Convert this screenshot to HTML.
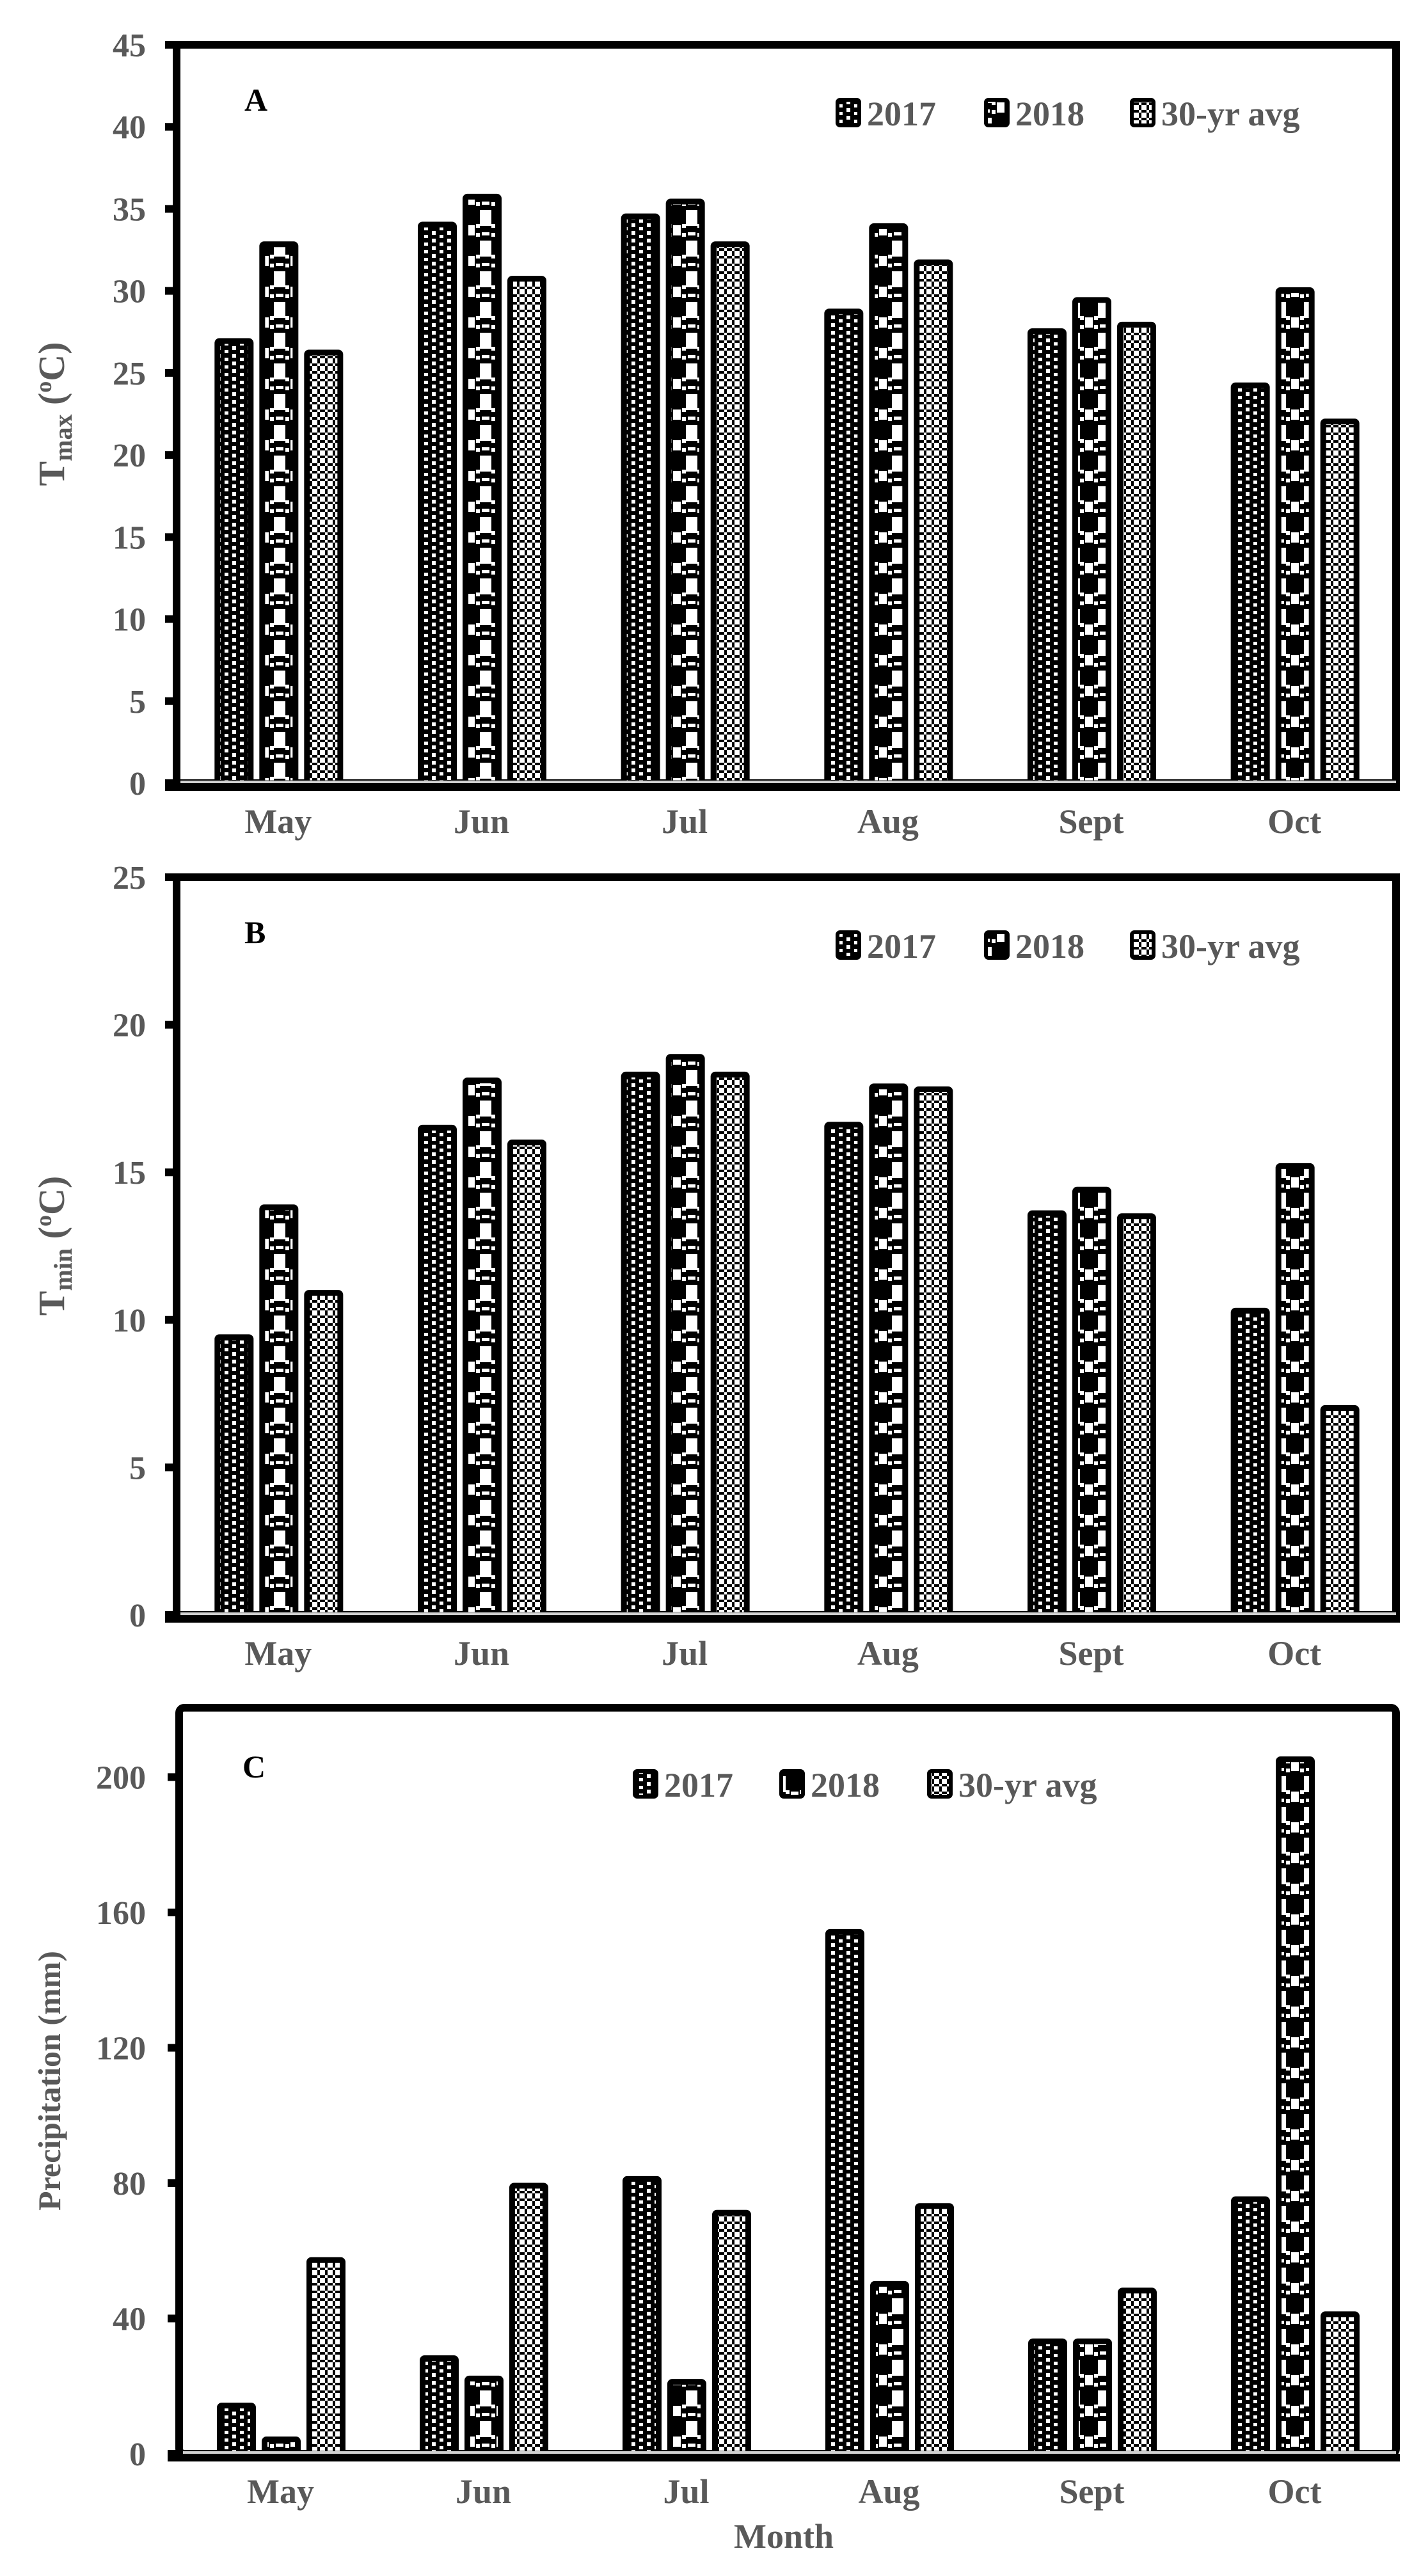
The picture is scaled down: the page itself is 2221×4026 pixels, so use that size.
<!DOCTYPE html>
<html><head><meta charset="utf-8"><style>
html,body{margin:0;padding:0;background:#fff;}
svg{display:block;}
</style></head><body>
<svg id="fig" xmlns="http://www.w3.org/2000/svg" width="2221" height="4026" viewBox="0 0 2221 4026">
<defs>
<pattern id="p2017" width="24" height="12" patternUnits="userSpaceOnUse">
<rect width="24" height="12" fill="#000"/>
<rect x="3" y="1" width="6" height="6" fill="#fff"/>
<rect x="15" y="7" width="6" height="6" fill="#fff"/>
</pattern>
<pattern id="p2018" width="46" height="48" patternUnits="userSpaceOnUse">
<rect width="46" height="48" fill="#000"/>
<rect x="14" y="0" width="18" height="17" fill="#fff"/>
<rect x="0" y="16" width="6" height="16" fill="#fff"/>
<rect x="40" y="16" width="6" height="16" fill="#fff"/>
<rect x="8" y="14" width="6" height="6" fill="#fff"/>
<rect x="32" y="14" width="6" height="6" fill="#fff"/>
<rect x="8" y="28" width="6" height="6" fill="#fff"/>
<rect x="32" y="28" width="6" height="6" fill="#fff"/>
<rect x="17" y="27" width="12" height="5" fill="#fff"/>
<rect x="14" y="40" width="18" height="8" fill="#fff"/>
</pattern>
<pattern id="pavg" width="12" height="12" patternUnits="userSpaceOnUse">
<rect width="12" height="12" fill="#fff"/>
<rect x="4" y="0" width="4" height="4" fill="#000"/>
<rect x="0" y="4" width="4" height="4" fill="#000"/>
<rect x="8" y="4" width="4" height="4" fill="#000"/>
<rect x="4" y="8" width="4" height="4" fill="#000"/>
</pattern>
</defs>
</svg>
<script>
// ---- data ----
const months = ["May","Jun","Jul","Aug","Sept","Oct"];
const seriesNames = ["2017","2018","30-yr avg"];
const tmax2017 = [27.1,34.2,34.7,28.9,27.7,24.4];
const tmax2018 = [33.0,35.9,35.6,34.1,29.6,30.2];
const tmaxAvg  = [26.4,30.9,33.0,31.9,28.1,22.2];
const tmin2017 = [9.5,16.6,18.4,16.7,13.7,10.4];
const tmin2018 = [13.9,18.2,19.0,18.0,14.5,15.3];
const tminAvg  = [11.0,16.1,18.4,17.9,13.6,7.1];
const prec2017 = [15,29,82,155,34,76];
const prec2018 = [5,23,22,51,34,206];
const precAvg  = [58,80,72,74,49,42];
const tmaxTicks = [0,5,10,15,20,25,30,35,40,45];
const tminTicks = [0,5,10,15,20,25];
const precTicks = [0,40,80,120,160,200];

const NS="http://www.w3.org/2000/svg";
const svg=document.getElementById('fig');
const GRAY="#595959";
function mk(tag,attrs,parent){const e=document.createElementNS(NS,tag);for(const k in attrs)e.setAttribute(k,attrs[k]);(parent||svg).appendChild(e);return e;}

const panels=[
 {key:"a",letter:"A",top:70,y0:1224,x0:276,x1:2182,max:45,ticks:tmaxTicks,series:[tmax2017,tmax2018,tmaxAvg],
  legendY:178,legendX:[1309,1541,1769],letterY:173,titleY:647,title:"max",monthY:1302},
 {key:"b",letter:"B",top:1371,y0:2524,x0:276,x1:2182,max:25,ticks:tminTicks,series:[tmin2017,tmin2018,tminAvg],
  legendY:1479,legendX:[1309,1541,1769],letterY:1474,titleY:1947,title:"min",monthY:2602},
 {key:"c",letter:"C",top:2669,y0:3835,x0:280,x1:2182,max:220.5,ticks:precTicks,series:[prec2017,prec2018,precAvg],
  legendY:2790,legendX:[992,1221,1452],letterY:2778,titleY:3252,title:null,monthY:3912}
];
const pats=["url(#p2017)","url(#p2018)","url(#pavg)"];
const barOff=[-99,-29,41], barW=60;

panels.forEach(p=>{
 const g=mk('g',{});
 
 
 const yS=v=>p.y0-(v/p.max)*(p.y0-p.top);
 const gw=(p.x1-p.x0)/months.length;
 const xC=i=>p.x0+gw*(i+0.5);
 const fr=mk('rect',{x:p.x0,y:p.top,width:p.x1-p.x0,height:p.y0-p.top,fill:"none",stroke:"#000","stroke-width":12,rx:p.key==="c"?8:0},g);
 
 
 p.series.forEach((arr,s)=>{
  arr.forEach((v,i)=>{
   const y=yS(v);
   const r=mk('rect',{x:xC(i)+barOff[s]+4,y:y+4,width:barW-8,height:p.y0-y-4,fill:pats[s],stroke:"#000","stroke-width":9,rx:3},g);
   
   
  });
 });
 const gl=mk('line',{x1:p.x0+6,x2:p.x1,y1:p.y0-2,y2:p.y0-2,stroke:"#d0d0d0","stroke-width":4},g);
 
 
 const xa=mk('line',{x1:p.x0-18,x2:p.x1+6,y1:p.y0+6,y2:p.y0+6,stroke:"#000","stroke-width":12},g);
 
 
 p.ticks.forEach(t=>{
  const y=yS(t);
  const tk=mk('line',{x1:p.x0-18,x2:p.x0,y1:y,y2:y,stroke:"#000","stroke-width":12},g);
  
  
  const tx=mk('text',{x:228,y:y+18,"text-anchor":"end","font-family":"Liberation Serif, serif","font-weight":"bold","font-size":52,fill:GRAY},g);
  tx.textContent=t;
  
  
 });
 months.forEach((m,i)=>{
  const tx=mk('text',{x:xC(i),y:p.monthY,"text-anchor":"middle","font-family":"Liberation Serif, serif","font-weight":"bold","font-size":54,fill:GRAY},g);
  tx.textContent=m;
  
  
 });
 const lt=mk('text',{x:p.key==="c"?379:382,y:p.letterY,"font-family":"Liberation Serif, serif","font-weight":"bold","font-size":50,fill:"#000"},g);
 lt.textContent=p.letter;
 
 
 seriesNames.forEach((n,s)=>{
  const lx=p.legendX[s];
  const mr=mk('rect',{x:lx,y:p.legendY-22,width:34,height:40,rx:4,fill:pats[s],stroke:"#000","stroke-width":6},g);
  
  
  const tx=mk('text',{x:lx+46,y:p.legendY+18,"font-family":"Liberation Serif, serif","font-weight":"bold","font-size":54,fill:GRAY},g);
  tx.textContent=n;
  
  
 });
 const yt=mk('text',{x:0,y:0,"text-anchor":"middle","font-family":"Liberation Serif, serif","font-weight":"bold","font-size":p.title?58:50,fill:GRAY,
   transform:`translate(${p.title?100:94},${p.titleY}) rotate(-90)`},g);
 
 
 if(p.title){
  const a=mk('tspan',{},yt);a.textContent="T";
  const b=mk('tspan',{"font-size":40,dy:12},yt);b.textContent=p.title;
  const c=mk('tspan',{dy:-12},yt);c.textContent=" (";
  const d=mk('tspan',{"font-size":36,dy:-20},yt);d.textContent="o";
  const e=mk('tspan',{dy:20},yt);e.textContent="C)";
 } else {
  yt.textContent="Precipitation (mm)";
 }
});
const xt=mk('text',{x:1225,y:3982,"text-anchor":"middle","font-family":"Liberation Serif, serif","font-weight":"bold","font-size":54,fill:GRAY});
xt.textContent="Month";


</script>
</body></html>
